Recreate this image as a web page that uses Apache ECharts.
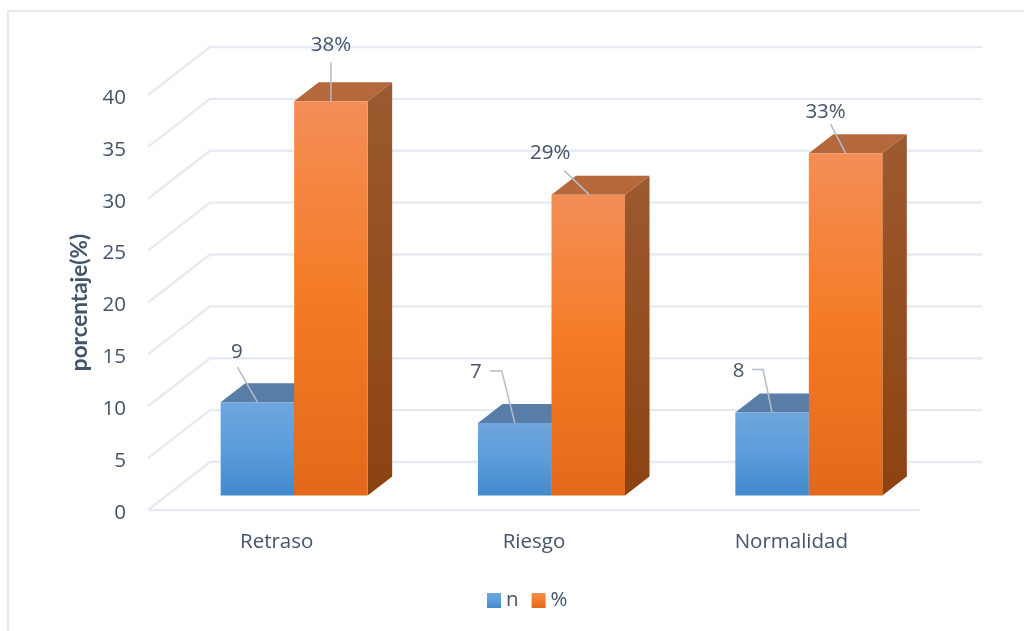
<!DOCTYPE html>
<html><head><meta charset="utf-8">
<style>html,body{margin:0;padding:0;background:#fff}#c{width:1024px;height:631px}</style>
<script src="https://cdn.jsdelivr.net/npm/echarts@6/dist/echarts.min.js"></script>
</head><body><div id="c"></div>
<script>
const categories = ['Retraso', 'Riesgo', 'Normalidad'];
const nValues = [9, 7, 8];
const pctValues = [38, 29, 33];
const yTicks = [0, 5, 10, 15, 20, 25, 30, 35, 40];

// layout of the 3D look, in pixels
const WALL = [62, -48], DEPTH = [24.5, -19], FRONT = [17.5, -14.5], BAR_W = 73.5;
// leader-line routes relative to the anchor on the bar's top edge: first point is next to the text
const nLabels = [
  {text: [-20.5, -50], line: [[-20, -35], [0, 0]]},
  {text: [-39, -51], line: [[-25, -52], [-13, -52], [0, 0]]},
  {text: [-33.5, -41], line: [[-20, -43], [-9, -43], [0, 0]]}
];
const pctLabels = [
  {text: [0, -56], line: [[0, -39], [0, 0]]},
  {text: [-38, -41], line: [[-24, -24], [1, 0]]},
  {text: [-20, -41], line: [[-15, -29], [0, 0]]}
];
const FONT = '"Open Sans", sans-serif', INK = '#44546a', LINE = '#e7eaf0', LEAD = '#b1bdcd';
const FS = 20.5;
const grad = (stops) => new echarts.graphic.LinearGradient(0, 0, 0, 1, stops.map((c, i) => ({offset: i / (stops.length - 1), color: c})));

function wallItem(params, api) {
  const tick = api.value(1), cs = params.coordSys;
  const y = api.coord([0, tick])[1], x0 = cs.x, x1 = cs.x + cs.width;
  const style = {stroke: LINE, lineWidth: 2.4, fill: null};
  const children = [{type: 'polyline', shape: {points: [[x0, y], [x0 + WALL[0], y + WALL[1]], [x1 + WALL[0], y + WALL[1]]]}, style}];
  if (tick === 0) children.push({type: 'line', shape: {x1: x0, y1: y, x2: x1, y2: y}, style});
  return {type: 'group', children};
}

function barRenderer(side, col, labels, suffix) {
  return function (params, api) {
    const i = params.dataIndex, v = api.value(1);
    const base = api.coord([api.value(0), 0]), top = api.coord([api.value(0), v]);
    const seam = base[0] + FRONT[0];
    const x0 = side < 0 ? seam - BAR_W : seam, x1 = x0 + BAR_W;
    const yb = base[1] + FRONT[1], yt = top[1] + FRONT[1];
    const [dx, dy] = DEPTH;
    const L = labels[i];
    const ax = (x0 + x1) / 2, ay = yt;
    const poly = (pts, fill) => ({type: 'polygon', shape: {points: pts}, style: {fill}});
    return {type: 'group', children: [
      poly([[x1, yb], [x1 + dx, yb + dy], [x1 + dx, yt + dy], [x1, yt]], grad(col.side)),
      poly([[x0, yt], [x0 + dx, yt + dy], [x1 + dx, yt + dy], [x1, yt]], col.top),
      poly([[x0, yt], [x1, yt], [x1, yb], [x0, yb]], grad(col.front)),
      {type: 'polyline', z2: 5, shape: {points: L.line.map(p => [ax + p[0], ay + p[1]])}, style: {stroke: LEAD, lineWidth: 1.5, fill: null}},
      {type: 'text', z2: 5, style: {text: v + suffix, x: ax + L.text[0], y: ay + L.text[1], align: 'center', verticalAlign: 'middle', fill: INK, font: FS + 'px ' + FONT}}
    ]};
  };
}
const blue = {front: ['#70a6dd', '#5b9ddb', '#4289cb'], top: '#587da6', side: ['#4f7da8', '#34608c']};
const orange = {front: ['#f48e57', '#f47b25', '#e4681a'], top: '#b5683c', side: ['#9c5a30', '#8c4210']};

const chart = echarts.init(document.getElementById('c'), null, {renderer: 'canvas'});
chart.setOption({
  animation: false,
  backgroundColor: '#fff',
  textStyle: {fontFamily: FONT},
  grid: {left: 148, top: 95, width: 772, height: 415, containLabel: false},
  xAxis: {type: 'category', data: categories, axisLine: {show: false}, axisTick: {show: false}, splitLine: {show: false},
    axisLabel: {color: INK, fontSize: FS, margin: 22, fontFamily: FONT}},
  yAxis: {type: 'value', min: 0, max: 40, interval: 5, axisLine: {show: false}, axisTick: {show: false}, splitLine: {show: false},
    axisLabel: {margin: 22, formatter: v => '{a|' + v + '}',
      rich: {a: {color: INK, fontSize: FS, fontFamily: FONT, padding: [6, 0, 0, 0]}}},
    name: 'porcentaje(%)', nameLocation: 'middle', nameGap: 57, nameRotate: 90,
    nameTextStyle: {color: INK, fontSize: 22.5, fontWeight: 'bold', fontFamily: 'Lato, sans-serif'}},
  legend: {data: ['n', '%'], left: 482, top: 585, itemWidth: 14, itemHeight: 15, itemGap: 13, icon: 'rect',
    textStyle: {color: INK, fontSize: FS, fontFamily: FONT, padding: [0, 0, 0, 0]}},
  graphic: [{type: 'polyline', shape: {points: [[8, 631], [8, 11], [1024, 11]]}, style: {stroke: '#e3e6ec', lineWidth: 2, fill: null}, silent: true}],
  series: [
    {type: 'custom', name: 'wall', silent: true, z: 1, clip: false, renderItem: wallItem, data: yTicks.map(t => [0, t]), encode: {x: 0, y: 1}},
    {type: 'custom', name: 'n', z: 2, clip: false, renderItem: barRenderer(-1, blue, nLabels, ''), itemStyle: {color: grad(blue.front)},
      data: nValues.map((v, i) => [i, v]), encode: {x: 0, y: 1}},
    {type: 'custom', name: '%', z: 3, clip: false, renderItem: barRenderer(1, orange, pctLabels, '%'), itemStyle: {color: grad(orange.front)},
      data: pctValues.map((v, i) => [i, v]), encode: {x: 0, y: 1}}
  ]
});
</script></body></html>
